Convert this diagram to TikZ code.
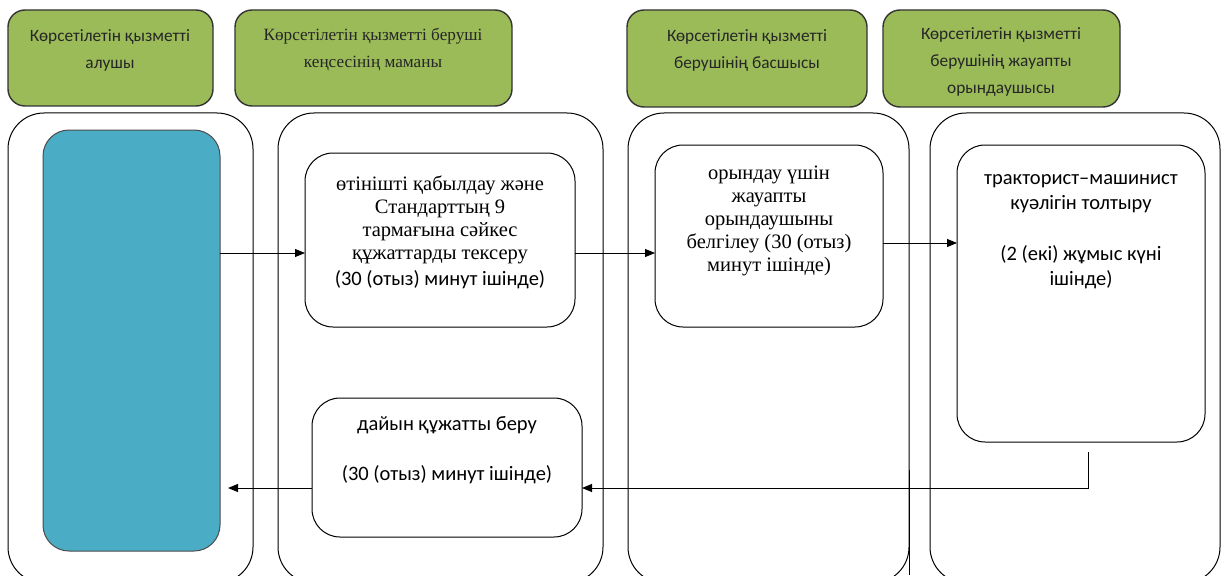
\documentclass[tikz,border=0pt]{standalone}
\usepackage{fontspec}
\setmainfont{Liberation Serif}
\newfontfamily\calfont{Carlito}
\usetikzlibrary{arrows.meta}
\definecolor{headgreen}{RGB}{155,187,89}
\definecolor{stepblue}{RGB}{75,172,198}
\begin{document}
\begin{tikzpicture}[x=1pt,y=-1pt,
  box/.style={draw, inner sep=0pt, outer sep=0pt, anchor=north west},
  headbox/.style={box, draw=black!80, line width=1.4pt, fill=headgreen, rounded corners=17pt},
  lanebox/.style={box, line width=1pt, rounded corners=36pt},
  stepbox/.style={box, line width=1pt, fill=white, rounded corners=28pt},
  bluebox/.style={box, draw=black!70, line width=1pt, fill=stepblue, rounded corners=26pt},
  headtxt/.style={align=center, inner sep=0pt, font=\calfont\fontsize{17.3}{27}\selectfont, text=black!85},
  serifhead/.style={align=center, inner sep=0pt, font=\fontsize{17.2}{27}\selectfont, text=black!85},
  seriftxt/.style={align=center, inner sep=0pt, font=\fontsize{20.5}{23}\selectfont},
  sanstxt/.style={align=center, inner sep=0pt, font=\calfont\fontsize{20.5}{25}\selectfont},
  arr/.style={line width=1pt, -{Triangle[length=10pt,width=8pt]}}]

\path[use as bounding box] (0,0) rectangle (1222,575);
\clip (0,0) rectangle (1222,575);

% column headers
\node[headbox, minimum width=205pt, minimum height=96pt] (H1) at (8,10) {};
\node[headbox, minimum width=277pt, minimum height=96pt] (H2) at (235,10) {};
\node[headbox, minimum width=240pt, minimum height=97pt] (H3) at (627,10) {};
\node[headbox, minimum width=237pt, minimum height=97pt] (H4) at (883,10) {};
\node[headtxt] (h1t) at (110,50) {Көрсетілетін қызметті\\алушы};
\node[serifhead] (h2t) at (373,50) {Көрсетілетін қызметті беруші\\кеңсесінің маманы};
\node[headtxt] (h3t) at (747,50) {Көрсетілетін қызметті\\берушінің басшысы};
\node[headtxt] (h4t) at (1001,62) {Көрсетілетін қызметті\\берушінің жауапты\\орындаушысы};

% swimlanes
\node[lanebox, minimum width=245pt, minimum height=470pt] (L1) at (8,113) {};
\node[lanebox, minimum width=325pt, minimum height=470pt] (L2) at (278,113) {};
\node[lanebox, minimum width=281pt, minimum height=470pt] (L3) at (628,113) {};
\node[lanebox, minimum width=290pt, minimum height=470pt] (L4) at (930,113) {};
\draw[line width=1pt] (L3.east |- 0,470) -- (L3.east |- 0,575);

% process steps
\node[bluebox, minimum width=177pt, minimum height=421pt] (S0) at (43,130) {};
\node[stepbox, minimum width=270pt, minimum height=174pt] (SA) at (305,153) {};
\node[stepbox, minimum width=228pt, minimum height=182pt] (SB) at (655,145) {};
\node[stepbox, minimum width=248pt, minimum height=297pt] (SC) at (957,145) {};
\node[stepbox, minimum width=270pt, minimum height=139pt] (SD) at (312,398) {};

\node[seriftxt] (ta) at (440,220) {өтінішті қабылдау және\\Стандарттың 9\\тармағына сәйкес\\құжаттарды тексеру};
\node[sanstxt, anchor=base] (ta2) at (440,285) {(30 (отыз) минут ішінде)};
\node[seriftxt] (tb) at (769,221) {орындау үшін\\жауапты\\орындаушыны\\белгілеу (30 (отыз)\\минут ішінде)};
\node[sanstxt] (tc) at (1081,232) {тракторист–машинист\\куәлігін толтыру\\[26pt](2 (екі) жұмыс күні\\ішінде)};
\node[sanstxt] (td) at (447,450) {дайын құжатты беру\\[25pt](30 (отыз) минут ішінде)};

% connectors
\coordinate (row1) at (0,253);
\coordinate (row2) at (0,243);
\coordinate (row3) at (0,488);
\coordinate (cstart) at (1088,452);
\coordinate (dend) at (228,488);
\draw[arr] (S0.east |- row1) -- (SA.west |- row1);
\draw[arr] (SA.east |- row1) -- (SB.west |- row1);
\draw[arr] (SB.east |- row2) -- (SC.west |- row2);
\draw[arr] (cstart) |- (SD.east |- row3);
\draw[arr] (SD.west |- row3) -- (dend);
\end{tikzpicture}
\end{document}
